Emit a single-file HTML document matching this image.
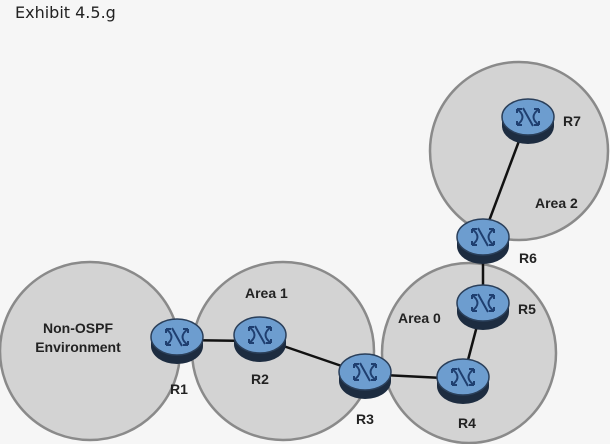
<!DOCTYPE html>
<html><head><meta charset="utf-8"><style>
html,body{margin:0;padding:0;background:#f6f6f6;width:610px;height:444px;overflow:hidden}
svg text{font-family:"Liberation Sans",Arial,sans-serif;font-weight:bold;fill:#222}
</style></head><body>
<svg width="610" height="444" viewBox="0 0 610 444">
<defs>
<g id="rt">
<ellipse cx="0" cy="9" rx="26" ry="18" fill="#1d2c40"/>
<rect x="-26" y="0" width="52" height="9" fill="#1d2c40"/>
<ellipse cx="0" cy="0" rx="26" ry="18" fill="#6d9dcf" stroke="#2a3f5a" stroke-width="1.5"/>
<path d="M-11,-8 Q0,0 -11,8 M11,-8 Q0,0 11,8 M-5,-9 Q0,0 5,9" stroke="#1f3f70" stroke-width="2" fill="none"/>
<path d="M-11,-8 l5,0 M-11,-8 l0,4 M11,8 l-5,0 M11,8 l0,-4 M11,-8 l-5,0 M11,-8 l0,4 M-11,8 l5,0 M-11,8 l0,-4" stroke="#1f3f70" stroke-width="2"/>
</g>
</defs>
<text x="15" y="18" style="font-family:'DejaVu Sans',sans-serif;font-weight:normal;font-size:16px" fill="#333">Exhibit 4.5.g</text>
<g fill="#d3d3d3" stroke="#8a8a8a" stroke-width="2.5">
<ellipse cx="519" cy="151" rx="89" ry="89"/>
<ellipse cx="90" cy="351" rx="90" ry="89"/>
<ellipse cx="283" cy="351" rx="91" ry="89"/>
<ellipse cx="469" cy="353" rx="87" ry="90"/>
</g>
<g stroke="#111" stroke-width="2.5">
<line x1="177" y1="340" x2="260" y2="341"/>
<line x1="260" y1="338" x2="365" y2="374"/>
<line x1="365" y1="374" x2="463" y2="379"/>
<line x1="463" y1="379" x2="483" y2="303"/>
<line x1="483" y1="303" x2="483" y2="237"/>
<line x1="483" y1="237" x2="528" y2="117"/>
</g>
<use href="#rt" x="177" y="337"/>
<use href="#rt" x="260" y="335"/>
<use href="#rt" x="365" y="372"/>
<use href="#rt" x="463" y="377"/>
<use href="#rt" x="483" y="303"/>
<use href="#rt" x="483" y="237"/>
<use href="#rt" x="528" y="117"/>
<g font-size="14">
<text x="170" y="394">R1</text>
<text x="251" y="384">R2</text>
<text x="356" y="424">R3</text>
<text x="458" y="428">R4</text>
<text x="518" y="314">R5</text>
<text x="519" y="263">R6</text>
<text x="563" y="126">R7</text>
<text x="245" y="298">Area 1</text>
<text x="398" y="323">Area 0</text>
<text x="535" y="208">Area 2</text>
<text x="78" y="333" text-anchor="middle">Non-OSPF</text>
<text x="78" y="352" text-anchor="middle">Environment</text>
</g>
</svg>
</body></html>
